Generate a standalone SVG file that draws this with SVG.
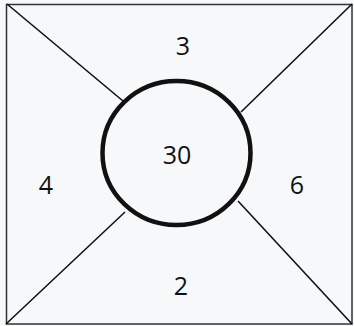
<svg xmlns="http://www.w3.org/2000/svg" width="354" height="326" viewBox="0 0 354 326">
<style>
.ln{stroke:#111;stroke-width:1.6;fill:none}
.t{font-family:"Open Sans","Liberation Sans",sans-serif;font-size:25px;fill:#111;text-anchor:middle}
</style>
<rect width="354" height="326" fill="#f7f8fa"/>
<g id="frame"><rect x="6.5" y="4.5" width="345.5" height="319.5" fill="none" stroke="#333" stroke-width="1.5"/></g>
<g id="connectors">
<line class="ln" x1="7" y1="4" x2="123" y2="101"/>
<line class="ln" x1="352" y1="4" x2="241" y2="112"/>
<line class="ln" x1="6" y1="324" x2="125" y2="212"/>
<line class="ln" x1="352" y1="324" x2="238" y2="201"/>
</g>
<g id="circle"><ellipse cx="176.5" cy="153" rx="74" ry="72" fill="none" stroke="#111" stroke-width="4.5"/><text class="t" x="177" y="164">30</text></g>
<g id="top"><text class="t" x="183" y="55">3</text></g>
<g id="left"><text class="t" x="46" y="194">4</text></g>
<g id="right"><text class="t" x="297" y="194">6</text></g>
<g id="bottom"><text class="t" x="181" y="295">2</text></g>
</svg>
